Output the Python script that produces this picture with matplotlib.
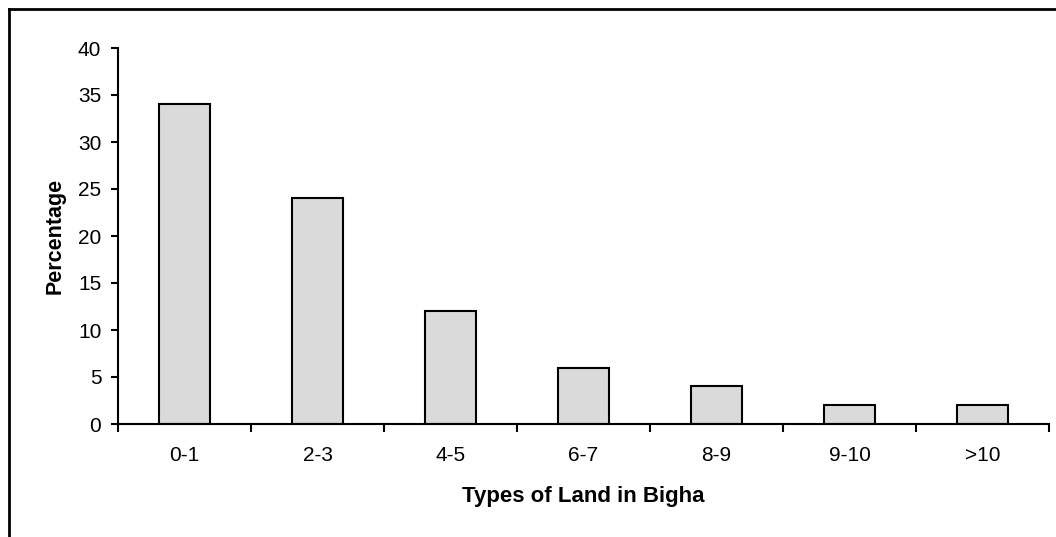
import matplotlib
matplotlib.use("Agg")
import matplotlib.pyplot as plt
from matplotlib.lines import Line2D
import numpy as np

categories = ["0-1", "2-3", "4-5", "6-7", "8-9", "9-10", ">10"]
percentages = [34, 24, 12, 6, 4, 2, 2]
y_ticks = [0, 5, 10, 15, 20, 25, 30, 35, 40]

plt.rcParams['font.family'] = ['Liberation Sans', 'DejaVu Sans']

W, H = 1056, 537
fig = plt.figure(figsize=(W / 100, H / 100), dpi=100)
ax = fig.add_axes([118 / W, 1 - 424 / H, (1049 - 118) / W, (424 - 48) / H])

x = np.arange(len(categories))
ax.bar(x, percentages, width=0.39, color='#dadada', edgecolor='black', linewidth=1.5, zorder=2)

ax.set_xlim(-0.5, len(categories) - 0.5)
ax.set_ylim(0, 40)
ax.set_yticks(y_ticks)
ax.set_xticks(x)
ax.set_xticklabels(categories)
ax.set_xticks(np.arange(len(categories) + 1) - 0.5, minor=True)
ax.tick_params(axis='x', which='major', length=0, pad=16, labelsize=15)
ax.tick_params(axis='x', which='minor', length=6, width=1.5, direction='out')
ax.tick_params(axis='y', length=5, width=1.5, direction='out', pad=7, labelsize=15)

for s in ['top', 'right']:
    ax.spines[s].set_visible(False)
for s in ['left', 'bottom']:
    ax.spines[s].set_linewidth(1.5)

ax.set_xlabel("Types of Land in Bigha", fontsize=16, fontweight='bold', labelpad=15)
ax.set_ylabel("Percentage", fontsize=15.5, fontweight='bold', labelpad=9)

# outer border (left and top visible)
fig.add_artist(Line2D([8.5 / W, 8.5 / W], [0, 1 - 8.5 / H], transform=fig.transFigure, color='black', linewidth=2))
fig.add_artist(Line2D([8.5 / W, 1], [1 - 8.5 / H, 1 - 8.5 / H], transform=fig.transFigure, color='black', linewidth=2))

fig.savefig("out.png", dpi=100)
